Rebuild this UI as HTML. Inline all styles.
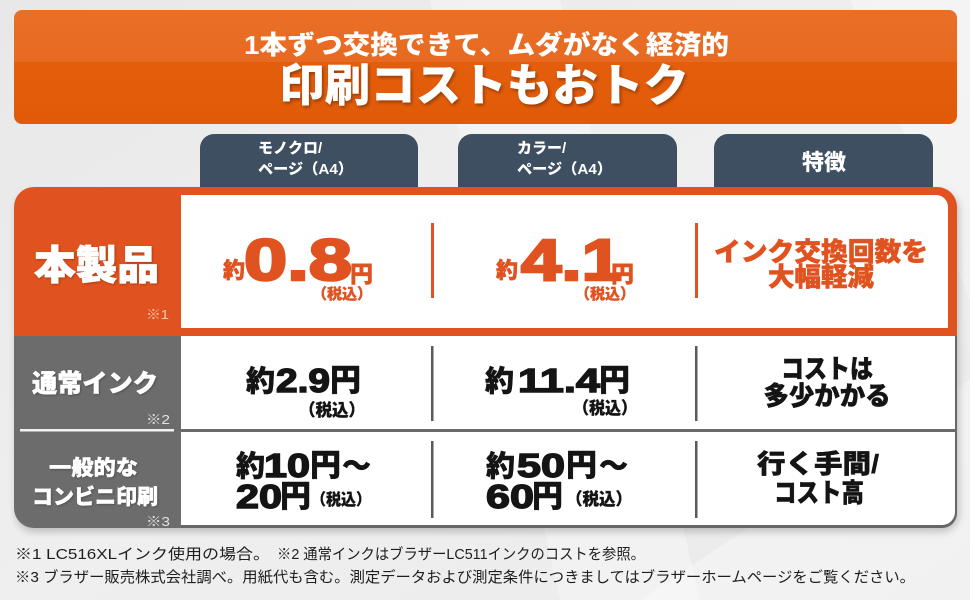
<!DOCTYPE html>
<html><head><meta charset="utf-8"><style>
html,body{margin:0;padding:0;width:970px;height:600px;overflow:hidden;background:#ececec;}
svg{display:block}
.j{font-family:"Liberation Sans","Noto Sans CJK JP",sans-serif;font-weight:900}
.n{font-family:"Liberation Sans","Noto Sans CJK JP",sans-serif;font-weight:normal}
.d{font-family:"Liberation Sans",sans-serif;font-weight:bold}
</style></head><body>
<svg width="970" height="600" viewBox="0 0 970 600" xmlns="http://www.w3.org/2000/svg">
<defs>
<linearGradient id="bg" x1="0" y1="0" x2="1" y2="1">
<stop offset="0" stop-color="#e8e8e8"/><stop offset="0.5" stop-color="#efefef"/><stop offset="1" stop-color="#ebebeb"/>
</linearGradient>
<linearGradient id="ban" x1="0" y1="0" x2="0" y2="1">
<stop offset="0" stop-color="#e96f27"/><stop offset="0.455" stop-color="#e86a21"/><stop offset="0.456" stop-color="#e35e0c"/><stop offset="1" stop-color="#e25a08"/>
</linearGradient>
<filter id="ts" x="-10%" y="-20%" width="120%" height="150%"><feDropShadow dx="1.5" dy="2" stdDeviation="1.5" flood-color="#000" flood-opacity="0.35"/></filter>
<filter id="ts2" x="-10%" y="-20%" width="120%" height="150%"><feDropShadow dx="1" dy="1" stdDeviation="1" flood-color="#000" flood-opacity="0.25"/></filter>
<filter id="bl" x="-10%" y="-10%" width="120%" height="120%"><feGaussianBlur stdDeviation="4"/></filter>
</defs>
<rect width="970" height="600" fill="url(#bg)"/>
<polygon points="430,0 560,0 700,600 560,600" fill="#fff" opacity="0.3"/>
<polygon points="850,0 970,0 970,300 " fill="#fff" opacity="0.3"/>
<polygon points="640,600 970,380 970,600" fill="#fff" opacity="0.3"/>

<!-- banner -->
<rect x="14" y="10" width="943" height="114" rx="8" fill="url(#ban)"/>
<text class="j" x="244" y="54" font-size="26" fill="#fff" textLength="485" lengthAdjust="spacingAndGlyphs">1本ずつ交換できて、ムダがなく経済的</text>
<text class="j" x="279" y="101" font-size="45" fill="#fff" textLength="410" lengthAdjust="spacingAndGlyphs" filter="url(#ts)">印刷コストもおトク</text>

<!-- tabs -->
<path d="M200,195 V148 A14,14 0 0 1 214,134 H404 A14,14 0 0 1 418,148 V195 Z" fill="#3e4f61"/>
<path d="M458,195 V148 A14,14 0 0 1 472,134 H663 A14,14 0 0 1 677,148 V195 Z" fill="#3e4f61"/>
<path d="M714,195 V148 A14,14 0 0 1 728,134 H919 A14,14 0 0 1 933,148 V195 Z" fill="#3e4f61"/>
<text class="j" x="258" y="153" font-size="15" fill="#fff">モノクロ/</text>
<text class="j" x="258" y="174" font-size="15" fill="#fff" textLength="95" lengthAdjust="spacingAndGlyphs">ページ（A4）</text>
<text class="j" x="517" y="153" font-size="15" fill="#fff">カラー/</text>
<text class="j" x="517" y="174" font-size="15" fill="#fff" textLength="95" lengthAdjust="spacingAndGlyphs">ページ（A4）</text>
<text class="j" x="824" y="170" font-size="22" fill="#fff" text-anchor="middle">特徴</text>

<!-- table shadow -->
<rect x="16" y="192" width="943" height="340" rx="18" fill="#000" opacity="0.2" filter="url(#bl)"/>

<!-- orange row -->
<path d="M14,336 V207 A20,20 0 0 1 34,187 H937 A20,20 0 0 1 957,207 V336 Z" fill="#e0521f"/>
<path d="M181,195 H936 A12,12 0 0 1 948,207 V328 H181 Z" fill="#fff"/>

<!-- gray rows -->
<path d="M14,336 H181 V528 H34 A20,20 0 0 1 14,508 Z" fill="#6c6c6c"/>
<path d="M181,336 H957 V513 A15,15 0 0 1 942,528 H181 Z" fill="#666"/>
<path d="M181,336 H955 V512 A13,13 0 0 1 942,525 H181 Z" fill="#fff"/>
<rect x="181" y="429" width="776" height="3" fill="#6a6a6a"/>
<rect x="20" y="429" width="154" height="2.5" fill="#f2f2f2"/>

<!-- dividers -->
<rect x="431" y="223" width="3" height="75" fill="#e0521f"/>
<rect x="695" y="223" width="3" height="75" fill="#e0521f"/>
<rect x="431" y="346" width="2.5" height="75" fill="#5a5a5a"/>
<rect x="695" y="346" width="2.5" height="75" fill="#5a5a5a"/>
<rect x="431" y="441" width="2.5" height="77" fill="#5a5a5a"/>
<rect x="695" y="441" width="2.5" height="77" fill="#5a5a5a"/>

<!-- labels -->
<text class="j" x="34" y="279" font-size="40" fill="#fff" stroke="#fff" stroke-width="0.8" textLength="125" lengthAdjust="spacingAndGlyphs" filter="url(#ts2)">本製品</text>
<text class="n" x="146" y="319" font-size="13" fill="#f6c7b2" textLength="23" lengthAdjust="spacingAndGlyphs">※1</text>
<text class="j" x="32" y="392" font-size="25" fill="#fff" stroke="#fff" stroke-width="0.5" textLength="126" lengthAdjust="spacingAndGlyphs" filter="url(#ts2)">通常インク</text>
<text class="n" x="146" y="424" font-size="13" fill="#e2e2e2" textLength="24" lengthAdjust="spacingAndGlyphs">※2</text>
<text class="j" x="49" y="475" font-size="21" fill="#fff" stroke="#fff" stroke-width="0.4" textLength="89" lengthAdjust="spacingAndGlyphs" filter="url(#ts2)">一般的な</text>
<text class="j" x="32" y="504" font-size="21" fill="#fff" stroke="#fff" stroke-width="0.4" textLength="126" lengthAdjust="spacingAndGlyphs" filter="url(#ts2)">コンビニ印刷</text>
<text class="n" x="146" y="526" font-size="13" fill="#e2e2e2" textLength="24" lengthAdjust="spacingAndGlyphs">※3</text>

<!-- row 1 -->
<g fill="#e0521f" stroke="#e0521f" stroke-width="0.5">
<text class="j" x="223" y="278" font-size="22">約</text>
<text class="d" x="244" y="280" font-size="58" stroke-width="2.5" textLength="108" lengthAdjust="spacingAndGlyphs">0.8</text>
<text class="j" x="350" y="282" font-size="23">円</text>
<text class="j" x="312" y="299" font-size="15" stroke-width="0.3" textLength="60" lengthAdjust="spacingAndGlyphs">（税込）</text>
<text class="j" x="496" y="278" font-size="22">約</text>
<text class="d" x="521" y="280" font-size="58" stroke-width="2.5" textLength="101" lengthAdjust="spacingAndGlyphs">4.1</text>
<text class="j" x="611" y="282" font-size="23">円</text>
<text class="j" x="575" y="299" font-size="15" stroke-width="0.3" textLength="60" lengthAdjust="spacingAndGlyphs">（税込）</text>
<text class="j" x="821" y="261" font-size="26" text-anchor="middle" textLength="214" lengthAdjust="spacingAndGlyphs">インク交換回数を</text>
<text class="j" x="821" y="286" font-size="26" text-anchor="middle" textLength="106" lengthAdjust="spacingAndGlyphs">大幅軽減</text>
</g>

<!-- row 2 -->
<g fill="#141414" stroke="#141414" stroke-width="0.5">
<text class="j" x="246" y="391" font-size="29">約</text>
<text class="d" x="276" y="392" font-size="33" stroke-width="1.4" textLength="54" lengthAdjust="spacingAndGlyphs">2.9</text>
<text class="j" x="330" y="391" font-size="31">円</text>
<text class="j" x="299" y="416" font-size="17" stroke-width="0.3" textLength="66" lengthAdjust="spacingAndGlyphs">（税込）</text>
<text class="j" x="485" y="391" font-size="29">約</text>
<text class="d" x="518" y="392" font-size="33" stroke-width="1.4" textLength="82" lengthAdjust="spacingAndGlyphs">11.4</text>
<text class="j" x="599" y="391" font-size="31">円</text>
<text class="j" x="573" y="414" font-size="17" stroke-width="0.3" textLength="64" lengthAdjust="spacingAndGlyphs">（税込）</text>
<text class="j" x="827" y="378" font-size="26" text-anchor="middle" textLength="92" lengthAdjust="spacingAndGlyphs">コストは</text>
<text class="j" x="827" y="405" font-size="26" text-anchor="middle" textLength="127" lengthAdjust="spacingAndGlyphs">多少かかる</text>

<!-- row 3 -->
<text class="j" x="236" y="476" font-size="29">約</text>
<text class="d" x="264" y="477" font-size="33" stroke-width="1.4" textLength="46" lengthAdjust="spacingAndGlyphs">10</text>
<text class="j" x="310" y="476" font-size="31">円</text>
<text class="j" x="342" y="476" font-size="29">〜</text>
<text class="d" x="236" y="508" font-size="33" stroke-width="1.4" textLength="46" lengthAdjust="spacingAndGlyphs">20</text>
<text class="j" x="280" y="507" font-size="31">円</text>
<text class="j" x="311" y="505" font-size="16" stroke-width="0.3" textLength="60" lengthAdjust="spacingAndGlyphs">（税込）</text>

<text class="j" x="486" y="476" font-size="29">約</text>
<text class="d" x="517" y="477" font-size="33" stroke-width="1.4" textLength="48" lengthAdjust="spacingAndGlyphs">50</text>
<text class="j" x="566" y="476" font-size="31">円</text>
<text class="j" x="599" y="476" font-size="29">〜</text>
<text class="d" x="486" y="508" font-size="33" stroke-width="1.4" textLength="48" lengthAdjust="spacingAndGlyphs">60</text>
<text class="j" x="532" y="507" font-size="31">円</text>
<text class="j" x="566" y="505" font-size="17" stroke-width="0.3" textLength="66" lengthAdjust="spacingAndGlyphs">（税込）</text>

<text class="j" x="818" y="473" font-size="26" text-anchor="middle" textLength="122" lengthAdjust="spacingAndGlyphs">行く手間/</text>
<text class="j" x="819" y="502" font-size="26" text-anchor="middle" textLength="90" lengthAdjust="spacingAndGlyphs">コスト高</text>
</g>

<!-- footnotes -->
<g fill="#1e1e1e">
<text class="n" x="15" y="559" font-size="15" textLength="255" lengthAdjust="spacingAndGlyphs">※1 LC516XLインク使用の場合。</text>
<text class="n" x="277" y="559" font-size="15" textLength="368" lengthAdjust="spacingAndGlyphs">※2 通常インクはブラザーLC511インクのコストを参照。</text>
<text class="n" x="15" y="582" font-size="15" textLength="900" lengthAdjust="spacingAndGlyphs">※3 ブラザー販売株式会社調べ。用紙代も含む。測定データおよび測定条件につきましてはブラザーホームページをご覧ください。</text>
</g>
</svg>
</body></html>
